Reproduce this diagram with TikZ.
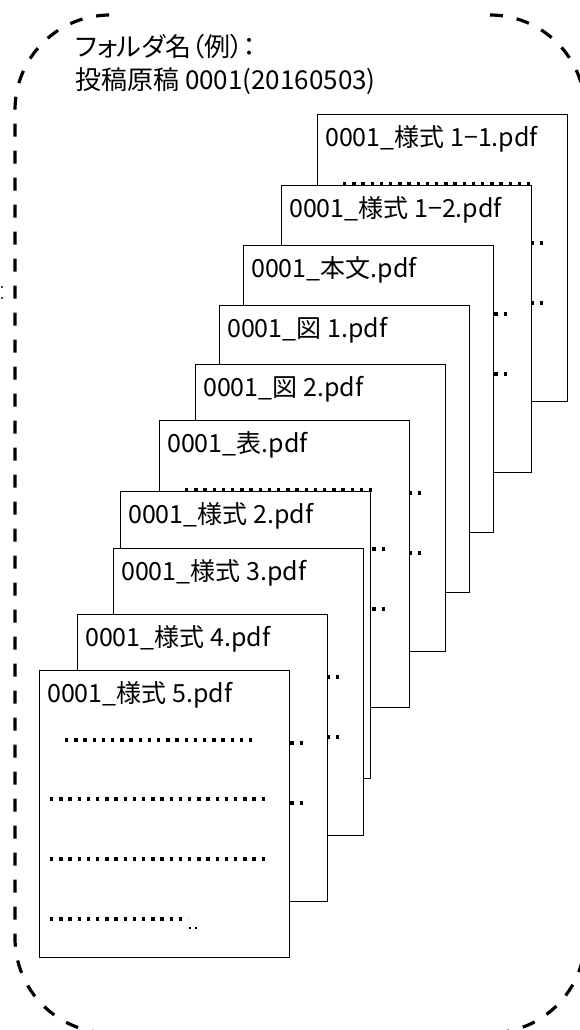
\documentclass[tikz,border=0pt]{standalone}
\usepackage{fontspec}
\setmainfont{Noto Sans CJK JP}
\newfontfamily\jpprop[RawFeature=+palt]{Noto Sans CJK JP}
\begin{document}
\begin{tikzpicture}[x=1pt, y=-1pt,
  docpage/.style={draw, line width=1.3pt, fill=white, minimum width=250pt,
    minimum height=287pt, inner sep=0pt, anchor=north west},
  fname/.style={anchor=base west, inner sep=0pt, font=\fontsize{25}{30}\selectfont},
  rowdots/.style={line width=3.3pt, dash pattern=on 3.3pt off 5.9pt},
  tinydots/.style={line width=2pt, dash pattern=on 2pt off 4pt},
  folderframe/.style={line width=3.2pt, dash pattern=on 13pt off 14pt, rounded corners=95pt}]
\clip (0,0) rectangle (580,1030);

% folder outline, top edge left open
\draw[folderframe] (490,15) -- (585,15) -- (585,1033) -- (15,1033) -- (15,15) -- (110,15);
\fill (2,287) circle[radius=1.2pt];
\fill (2,298) circle[radius=1.2pt];

\node[fname, font=\jpprop\fontsize{26}{30}\selectfont] (F1) at (75,57) {フォルダ名（例）：};
\node[fname, font=\fontsize{26}{30}\selectfont] (F2) at (75,90) {投稿原稿 0001(20160503)};

% pages, back to front
\foreach \px/\py/\t [count=\i] in {317/114/{0001\_様式 1−1.pdf}, 281/185/{0001\_様式 1−2.pdf},
    243/245/{0001\_本文.pdf}, 219/305/{0001\_図 1.pdf}, 195/364/{0001\_図 2.pdf},
    159/420/{0001\_表.pdf}, 120/491/{0001\_様式 2.pdf}, 113/548/{0001\_様式 3.pdf},
    77/614/{0001\_様式 4.pdf}, 39/670/{0001\_様式 5.pdf}}{
  \node[docpage] (P\i) at (\px,\py) {};
  \node[fname] (T\i) at (\px+8,\py+32.5) {\t};
  \draw[rowdots] (\px+26,\py+70) -- ++(190,0);
  \draw[rowdots] (\px+11,\py+129) -- ++(218,0);
  \draw[rowdots] (\px+11,\py+189) -- ++(218,0);
  \draw[rowdots] (\px+11,\py+249) -- ++(138,0);
  \draw[tinydots] (\px+150,\py+258) -- ++(8,0);
}
\end{tikzpicture}
\end{document}
